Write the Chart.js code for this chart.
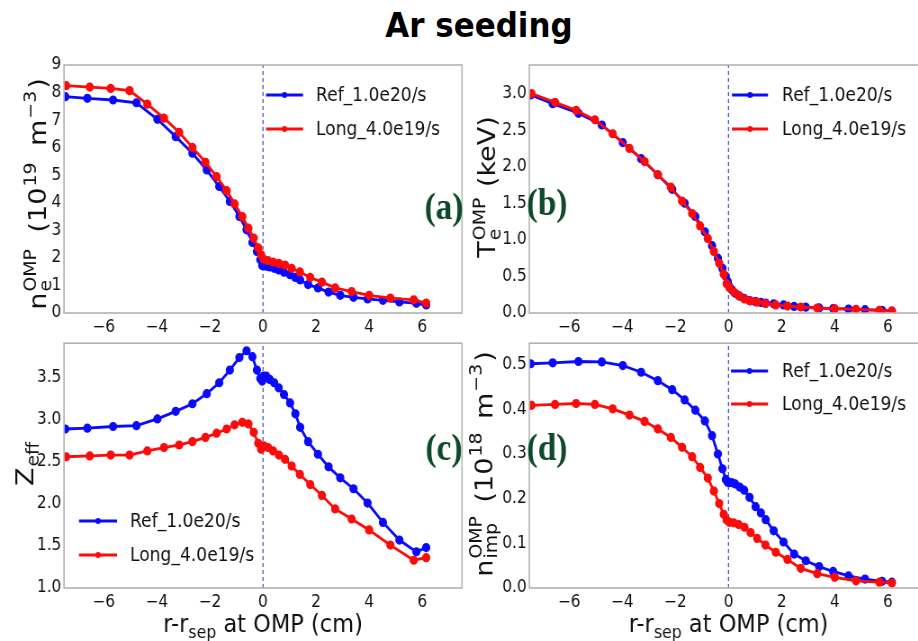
<!DOCTYPE html>
<html>
<head>
<meta charset="utf-8">
<script src="https://cdn.jsdelivr.net/npm/chart.js@4.4.0/dist/chart.umd.min.js"></script>
<style>
html, body { margin: 0; padding: 0; background: #fff; }
body { width: 918px; height: 641px; overflow: hidden; position: relative; }
#title { position: absolute; left: 0; top: 5px; width: 958px; text-align: center;
  font: bold 34px "DejaVu Sans", sans-serif; color: #000; line-height: 40px;
  transform: scaleX(0.91); transform-origin: 479px 0; }
canvas { position: absolute; transform-origin: 0 0; }
</style>
</head>
<body>
<div id="title">Ar seeding</div>
<script>
// ---- data ----
var seriesNames = ['Ref_1.0e20/s', 'Long_4.0e19/s'];

// radial grid of each case, r - r_sep at OMP (cm)
var xRef = [-7.45, -6.62, -5.65, -4.77, -3.98, -3.29, -2.66, -2.12, -1.65, -1.25, -0.89, -0.62, -0.40, -0.23, -0.10, -0.03,
  0.02, 0.12, 0.25, 0.42, 0.59, 0.79, 1.02, 1.22, 1.40, 1.70, 2.07, 2.47, 2.91, 3.41, 3.94, 4.52, 5.14, 5.78, 6.15];
var xLong = [-7.42, -6.53, -5.74, -5.03, -4.36, -3.73, -3.16, -2.66, -2.17, -1.75, -1.37, -1.07, -0.78, -0.55, -0.35, -0.18, -0.07,
  0.03, 0.19, 0.38, 0.60, 0.83, 1.08, 1.39, 1.78, 2.22, 2.72, 3.34, 4.00, 4.80, 5.68, 6.15];

// (a) n_e (1e19 m^-3)
var neRef = [7.85, 7.79, 7.73, 7.63, 7.03, 6.40, 5.80, 5.19, 4.59, 4.05, 3.50, 3.02, 2.56, 2.23, 1.93, 1.72,
  1.72, 1.70, 1.67, 1.62, 1.56, 1.48, 1.39, 1.29, 1.20, 1.03, 0.91, 0.76, 0.64, 0.57, 0.51, 0.46, 0.40, 0.35, 0.29];
var neLong = [8.25, 8.20, 8.15, 8.07, 7.58, 7.07, 6.56, 6.01, 5.47, 4.95, 4.44, 3.96, 3.50, 3.08, 2.72, 2.36, 2.11,
  1.95, 1.90, 1.85, 1.80, 1.74, 1.62, 1.49, 1.29, 1.12, 0.91, 0.78, 0.64, 0.54, 0.48, 0.36];

// (b) T_e (keV)
var teRef = [2.98, 2.86, 2.73, 2.57, 2.33, 2.11, 1.89, 1.69, 1.50, 1.32, 1.11, 0.92, 0.75, 0.61, 0.50, 0.43,
  0.37, 0.32, 0.27, 0.23, 0.20, 0.17, 0.155, 0.145, 0.135, 0.125, 0.11, 0.09, 0.08, 0.07, 0.06, 0.055, 0.045, 0.036, 0.027];
var teLong = [3.00, 2.88, 2.77, 2.64, 2.45, 2.25, 2.07, 1.89, 1.72, 1.53, 1.36, 1.19, 1.02, 0.84, 0.68, 0.53, 0.40,
  0.35, 0.29, 0.24, 0.19, 0.165, 0.15, 0.13, 0.11, 0.095, 0.082, 0.068, 0.059, 0.05, 0.036, 0.027];

// (c) Z_eff
var zRef = [2.89, 2.90, 2.92, 2.93, 3.01, 3.10, 3.19, 3.31, 3.44, 3.59, 3.74, 3.82, 3.75, 3.59, 3.49, 3.46,
  3.52, 3.52, 3.48, 3.44, 3.38, 3.30, 3.20, 3.07, 2.91, 2.74, 2.59, 2.44, 2.31, 2.18, 2.01, 1.78, 1.57, 1.43, 1.48];
var zLong = [2.56, 2.57, 2.58, 2.58, 2.63, 2.67, 2.70, 2.74, 2.79, 2.84, 2.89, 2.94, 2.97, 2.95, 2.85, 2.72, 2.65,
  2.69, 2.67, 2.63, 2.58, 2.53, 2.45, 2.35, 2.23, 2.10, 1.94, 1.82, 1.69, 1.51, 1.33, 1.36];

// (d) n_imp (1e18 m^-3)
var nimpRef = [0.502, 0.504, 0.507, 0.506, 0.498, 0.483, 0.464, 0.444, 0.421, 0.398, 0.374, 0.341, 0.300, 0.267, 0.243, 0.237,
  0.236, 0.236, 0.233, 0.226, 0.219, 0.203, 0.182, 0.168, 0.153, 0.128, 0.103, 0.076, 0.061, 0.048, 0.037, 0.027, 0.020, 0.015, 0.013];
var nimpLong = [0.409, 0.411, 0.413, 0.411, 0.401, 0.387, 0.373, 0.356, 0.337, 0.315, 0.294, 0.270, 0.246, 0.217, 0.189, 0.165, 0.152,
  0.147, 0.146, 0.142, 0.136, 0.124, 0.111, 0.096, 0.080, 0.064, 0.044, 0.032, 0.024, 0.016, 0.013, 0.011];

// tick labels
var xTicks = [-6, -4, -2, 0, 2, 4, 6];
var neTicks = [0, 1, 2, 3, 4, 5, 6, 7, 8, 9];
var teTicks = [0.0, 0.5, 1.0, 1.5, 2.0, 2.5, 3.0];
var zTicks = [1.0, 1.5, 2.0, 2.5, 3.0, 3.5];
var nimpTicks = [0.0, 0.1, 0.2, 0.3, 0.4, 0.5];

// ---- drawing ----
var SX = 0.9;   // the figure is squeezed horizontally
var FAM = '"DejaVu Sans", sans-serif';

function pts(xs, ys) {
  return xs.map(function (x, i) { return {x: x, y: ys[i]}; });
}

// width of one piece of a label; pre = extra gap in front (math spacing)
function segW(ctx, s, size) {
  var pre = s.pre || 0;
  if (s.t !== undefined) { ctx.font = size + 'px ' + FAM; return pre + ctx.measureText(s.t).width; }
  ctx.font = (size * 0.7) + 'px ' + FAM;
  return pre + Math.max(s.sub ? ctx.measureText(s.sub).width : 0, s.sup ? ctx.measureText(s.sup).width : 0);
}

function drawRich(ctx, segs, size, x0, y0) {
  var x = x0;
  segs.forEach(function (s) {
    var px = x + (s.pre || 0);
    if (s.t !== undefined) {
      ctx.font = size + 'px ' + FAM;
      ctx.fillText(s.t, px, y0);
    } else {
      ctx.font = (size * 0.7) + 'px ' + FAM;
      if (s.sub) ctx.fillText(s.sub, px, y0 + size * 0.22);
      if (s.sup) ctx.fillText(s.sup, px, y0 - size * 0.42);
    }
    x += segW(ctx, s, size);
  });
}

function richWidth(ctx, segs, size) {
  var w = 0;
  segs.forEach(function (s) { w += segW(ctx, s, size); });
  return w;
}

var decor = {
  id: 'decor',
  afterDatasetsDraw: function (chart, args, o) {
    var ctx = chart.ctx, a = chart.chartArea;
    var ix = function (x) { return (x - o.L) / SX; };
    var iy = function (y) { return y - o.T; };
    ctx.save();
    // frame
    ctx.strokeStyle = '#b2b2b2';
    ctx.lineWidth = 1.6;
    ctx.strokeRect(a.left, a.top, a.right - a.left, a.bottom - a.top);

    // legend
    ctx.textAlign = 'left';
    ctx.textBaseline = 'middle';
    for (var i = 0; i < 2; i++) {
      var ds = chart.data.datasets[i];
      var y = iy(o.legY[i]);
      ctx.strokeStyle = ds.borderColor;
      ctx.lineWidth = 3;
      ctx.beginPath();
      ctx.moveTo(ix(o.legX[0]), y);
      ctx.lineTo(ix(o.legX[1]), y);
      ctx.stroke();
      ctx.fillStyle = ds.borderColor;
      ctx.beginPath();
      ctx.arc((ix(o.legX[0]) + ix(o.legX[1])) / 2, y, 3, 0, Math.PI * 2);
      ctx.fill();
      ctx.fillStyle = '#111';
      ctx.font = '19px ' + FAM;
      ctx.fillText(ds.label, ix(o.legX[2]), y + 1);
    }

    // panel tag
    ctx.fillStyle = '#0d4a2c';
    ctx.font = 'bold 37px "Liberation Serif", serif';
    ctx.textAlign = 'center';
    ctx.textBaseline = 'middle';
    ctx.fillText(o.tag, ix(o.tagXY[0]), iy(o.tagXY[1]));

    // y title (rotated)
    ctx.fillStyle = '#111';
    ctx.textAlign = 'left';
    ctx.textBaseline = 'alphabetic';
    ctx.save();
    ctx.translate(ix(o.yTitleXY[0]), iy(o.yTitleXY[1]));
    ctx.rotate(-Math.PI / 2);
    var w = richWidth(ctx, o.yTitle, o.yTitleSize);
    drawRich(ctx, o.yTitle, o.yTitleSize, -w / 2, 0);
    ctx.restore();

    // x title
    if (o.xTitle) {
      var xw = richWidth(ctx, o.xTitle, 25);
      drawRich(ctx, o.xTitle, 25, (a.left + a.right) / 2 - xw / 2, iy(o.xTitleY));
    }
    ctx.restore();
  }
};

var xTitle = [{t: 'r-r'}, {sub: 'sep'}, {t: ' at OMP (cm)'}];

function makePanel(p) {
  var cv = document.createElement('canvas');
  var wi = Math.round(p.W / SX);
  cv.width = wi;
  cv.height = p.H;
  cv.style.left = p.L + 'px';
  cv.style.top = p.T + 'px';
  cv.style.transform = 'scaleX(' + SX + ')';
  document.body.appendChild(cv);

  var yAxisW = (p.area[0] - p.L) / SX;
  var padRight = wi - (p.area[1] - p.L) / SX;
  var padTop = p.area[2] - p.T;
  var xAxisH = p.T + p.H - p.area[3];

  new Chart(cv.getContext('2d'), {
    type: 'scatter',
    data: {
      datasets: [
        {label: seriesNames[0], data: pts(xRef, p.ref), borderColor: '#0a0aff', backgroundColor: '#0a0aff',
          showLine: true, borderWidth: 2.8, pointRadius: 3.2, pointHoverRadius: 3.2, order: 1},
        {label: seriesNames[1], data: pts(xLong, p.long), borderColor: '#ff0a0a', backgroundColor: '#ff0a0a',
          showLine: true, borderWidth: 2.8, pointRadius: 3.2, pointHoverRadius: 3.2, order: 0},
        {label: 'sep', data: [{x: 0, y: p.yMin}, {x: 0, y: p.yMax}], borderColor: '#4f4fcf',
          showLine: true, borderWidth: 1.3, borderDash: [4, 3], pointRadius: 0, order: 2}
      ]
    },
    options: {
      responsive: false,
      animation: false,
      layout: {padding: {top: padTop, right: padRight, left: 0, bottom: 0}},
      plugins: {
        legend: {display: false},
        tooltip: {enabled: false},
        decor: p.decor
      },
      scales: {
        x: {
          type: 'linear', min: -7.5, max: 7.5,
          grid: {display: false, drawTicks: false}, border: {display: false},
          afterBuildTicks: function (s) { s.ticks = xTicks.map(function (v) { return {value: v}; }); },
          afterFit: function (s) { s.height = xAxisH; },
          ticks: {
            color: '#111', padding: 4, maxRotation: 0, autoSkip: false,
            font: {family: FAM, size: 17},
            callback: function (v) { return v < 0 ? '\u2212' + Math.abs(v) : String(v); }
          }
        },
        y: {
          type: 'linear', min: p.yMin, max: p.yMax,
          grid: {display: false, drawTicks: false}, border: {display: false},
          afterBuildTicks: function (s) { s.ticks = p.yTicks.map(function (v) { return {value: v}; }); },
          afterFit: function (s) { s.width = yAxisW; },
          ticks: {
            color: '#111', padding: 3, autoSkip: false,
            font: {family: FAM, size: 17},
            callback: function (v) { return v.toFixed(p.dec); }
          }
        }
      }
    },
    plugins: [decor]
  });
}

makePanel({
  L: 0, T: 45, W: 475, H: 300, area: [64, 462, 65, 313],
  ref: neRef, long: neLong, yMin: 0, yMax: 9, yTicks: neTicks, dec: 0,
  decor: {
    L: 0, T: 45, tag: '(a)', tagXY: [444, 209],
    legX: [266, 303, 316], legY: [95, 129],
    yTitleXY: [46, 194], yTitleSize: 27,
    yTitle: [{t: 'n'}, {sub: 'e', sup: 'OMP', pre: 1}, {t: ' (10', pre: 8}, {sup: '19', pre: 1}, {t: ' m', pre: 8},
      {sup: '\u22123', pre: 1}, {t: ')', pre: 2}]
  }
});

makePanel({
  L: 460, T: 45, W: 475, H: 300, area: [529.3, 927.7, 65, 313],
  ref: teRef, long: teLong, yMin: 0, yMax: 3.39, yTicks: teTicks, dec: 1,
  decor: {
    L: 460, T: 45, tag: '(b)', tagXY: [547, 205],
    legX: [732, 768, 782], legY: [95, 129],
    yTitleXY: [495, 187], yTitleSize: 27,
    yTitle: [{t: 'T'}, {sub: 'e', sup: 'OMP', pre: 1}, {t: ' (keV)', pre: 2}]
  }
});

makePanel({
  L: 0, T: 330, W: 475, H: 311, area: [64, 462, 341, 588],
  ref: zRef, long: zLong, yMin: 1.0, yMax: 3.91, yTicks: zTicks, dec: 1,
  decor: {
    L: 0, T: 330, tag: '(c)', tagXY: [444, 450],
    legX: [79, 117, 130], legY: [521, 555],
    yTitleXY: [33, 464], yTitleSize: 27,
    yTitle: [{t: 'Z'}, {sub: 'eff', pre: 1}],
    xTitle: xTitle, xTitleY: 632
  }
});

makePanel({
  L: 460, T: 330, W: 475, H: 311, area: [529.3, 927.7, 341, 588],
  ref: nimpRef, long: nimpLong, yMin: 0, yMax: 0.548, yTicks: nimpTicks, dec: 1,
  decor: {
    L: 460, T: 330, tag: '(d)', tagXY: [547, 450],
    legX: [731, 768, 782], legY: [371, 404],
    yTitleXY: [492, 464], yTitleSize: 27,
    yTitle: [{t: 'n'}, {sub: 'imp', sup: 'OMP', pre: 1}, {t: ' (10', pre: 5}, {sup: '18', pre: 1}, {t: ' m', pre: 5},
      {sup: '\u22123', pre: 1}, {t: ')', pre: 2}],
    xTitle: xTitle, xTitleY: 632
  }
});
</script>
</body>
</html>
